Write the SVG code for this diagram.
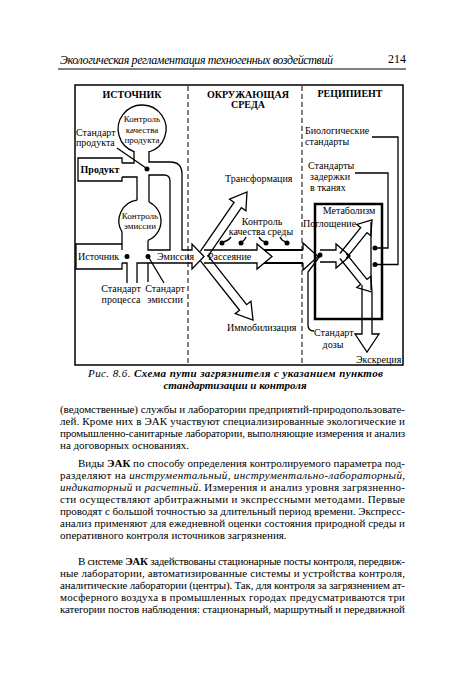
<svg xmlns="http://www.w3.org/2000/svg" width="450" height="675" viewBox="0 0 450 675">
<style>
text{font-family:"Liberation Serif","DejaVu Serif",serif;fill:#000}
.d{font-size:10px}
.c{font-size:9px}
.h{font-size:10px;font-weight:bold}
.b{font-size:11px}
.m{text-anchor:middle}
.ln{fill:none;stroke:#000;stroke-width:1.3;stroke-linejoin:miter}
.thk{fill:none;stroke:#000;stroke-width:2}
.dash{stroke:#000;stroke-width:1;stroke-dasharray:5 3}
.dot{fill:#000}
</style>
<rect width="450" height="675" fill="#fff"/>

<g id="page-header">
<text x="60" y="64" font-size="12" font-style="italic" textLength="273" lengthAdjust="spacing">Экологическая регламентация техногенных воздействий</text>
<text x="388" y="63" font-size="12">214</text>
<line x1="58" y1="69" x2="406" y2="69" stroke="#000" stroke-width="1"/>
</g>

<g id="frame">
<rect x="75" y="85" width="328" height="280" fill="none" stroke="#000" stroke-width="1.5"/>
<line class="dash" x1="188" y1="86" x2="188" y2="365"/>
<line class="dash" x1="302" y1="86" x2="302" y2="365"/>
<text class="h m" x="132" y="98">ИСТОЧНИК</text>
<text class="h m" x="248" y="98">ОКРУЖАЮЩАЯ</text>
<text class="h m" x="248" y="108">СРЕДА</text>
<text class="h m" x="350" y="97">РЕЦИПИЕНТ</text>
</g>

<g id="product-control">
<path class="ln" d="M134,151.6 A24,24 0 1,1 149,152"/>
<text class="c m" x="142" y="122">Контроль</text>
<text class="c m" x="142" y="132.5">качества</text>
<text class="c m" x="142" y="143">продукта</text>
</g>

<g id="product-standard">
<text class="d" x="76" y="136">Стандарт</text>
<text class="d" x="76" y="146">продукта</text>
</g>

<g id="product">
<path class="ln" d="M122,163 L122,158 L78,158 L78,181 L122,181 L122,177"/>
<text class="d m" x="100" y="172.5" font-weight="bold">Продукт</text>
</g>

<g id="emission-control">
<path class="ln" d="M122,244 L122,232 A21,21 0 0,1 137,200.2"/>
<path class="ln" d="M149,202 A21,21 0 0,1 148,240.4"/>
<text class="c m" x="140" y="218.5">Контроль</text>
<text class="c m" x="140" y="229">эмиссии</text>
</g>

<g id="source">
<path class="ln" d="M122,250 L122,244 L76,244 L76,269 L122,269 L122,263"/>
<text class="d" x="78" y="260">Источник</text>
</g>

<g id="process-standard">
<text class="d m" x="121" y="292">Стандарт</text>
<text class="d m" x="121" y="303">процесса</text>
</g>

<g id="emission-standard">
<text class="d m" x="165" y="292">Стандарт</text>
<text class="d m" x="165" y="303">эмиссии</text>
</g>

<g id="emission">
<text class="d" x="157" y="259.5">Эмиссия</text>
</g>

<g id="transformation">
<text class="d" x="225" y="182">Трансформация</text>
</g>

<g id="env-control">
<text class="d m" x="262" y="224.5">Контроль</text>
<text class="d m" x="261" y="234.5">качества среды</text>
</g>

<g id="dispersion">
<text class="d" x="208" y="260">Рассеяние</text>
</g>

<g id="immobilization">
<text class="d" x="227" y="331">Иммобилизация</text>
</g>

<g id="bio-standards">
<text class="d" x="305" y="133.5">Биологические</text>
<text class="d" x="305" y="145">стандарты</text>
</g>

<g id="retention-standards">
<text class="d" x="308" y="168.5">Стандарты</text>
<text class="d" x="310" y="180">задержки</text>
<text class="d" x="310" y="191">в тканях</text>
</g>

<g id="metabolism">
<rect x="315" y="204" width="67" height="115" fill="none" stroke="#000" stroke-width="2.5"/>
<text class="d m" x="349" y="214">Метаболизм</text>
</g>

<g id="uptake">
<text class="d" x="303" y="227">Поглощение</text>
</g>

<g id="dose-standard">
<text class="d" x="314" y="336">Стандарт</text>
<text class="d m" x="333" y="348">дозы</text>
</g>

<g id="excretion">
<text class="d" x="356" y="363">Экскреция</text>
</g>

<g id="connectors">
<path class="ln" d="M122,163 L134,163 L134,151"/>
<path class="ln" d="M149,151 L149,162 L170,162 Q182,162 182,174 L182,250 L192,250 L192,244 L204,256.5 L192,269 L192,263 L137,263 L137,283"/>
<path class="ln" d="M122,177 L137,177 L137,200.2"/>
<path class="ln" d="M149,202 L149,175 L164,175 Q170,175 170,181 L170,250 L148,250 L148,240.4"/>
<path class="ln" d="M122,263 L127,263 L127,283"/>
<path class="ln" d="M148,263 L148,282 M149,258 L164,283"/>
<path class="ln" d="M117,148 L146,168"/>
<polyline class="ln" points="207.67,256.61 241.41,207.67 245.9,210.85 247,192 229.58,199.27 234.07,202.45 200.33,251.39"/>
<polyline class="ln" points="200.47,260.79 239.55,310.23 235.23,313.64 253,320 250.93,301.24 246.61,304.65 207.53,255.21"/>
<polyline class="ln" points="204,250 257,250 257,244 272,256.5 257,269 257,263 204,263"/>
<path class="thk" d="M264,250 L303,250 M264,263 L303,263"/>
<path class="ln" d="M303,250 L303,243 L318,256.5 L303,270 L303,263"/>
<path class="ln" d="M223,242 Q228,241 231,237 M242,242 Q245,240 246,237 M265,242 Q261,241 259,237 M286,242 Q282,241 280,237"/>
<polyline class="ln" points="320,250 336,250 336,244 350,256 336,268 336,262 320,262"/>
<polyline class="ln" points="346.12,258.51 366.96,232.64 370.85,235.78 372,220 356.83,224.48 360.72,227.62 339.88,253.49"/>
<polyline class="ln" points="339.88,258.51 360.72,284.38 356.83,287.52 372,292 370.85,276.22 366.96,279.36 346.12,253.49"/>
<path class="ln" d="M371,222 L371,290"/>
<path class="ln" d="M362,285 L362,334 L355,334 L367,352 L379,334 L372,334 L372,293"/>
<path class="ln" d="M376,248 L388,248 L388,173 L355,173"/>
<path class="ln" d="M376,264.5 L398,264.5 L398,137 L372,137"/>
<path class="ln" d="M320,256 L308,272 L308,325 Q308,331 314,331"/>
<circle class="dot" cx="127" cy="256.5" r="2.5"/>
<circle class="dot" cx="148" cy="256.5" r="2.5"/>
<circle class="dot" cx="147" cy="169" r="2.5"/>
<circle class="dot" cx="222" cy="243" r="2.5"/>
<circle class="dot" cx="241" cy="243" r="2.5"/>
<circle class="dot" cx="266" cy="243" r="2.5"/>
<circle class="dot" cx="287" cy="243" r="2.5"/>
<circle class="dot" cx="320" cy="255" r="2.5"/>
<circle class="dot" cx="375" cy="248" r="2.5"/>
<circle class="dot" cx="375" cy="264.5" r="2.5"/>
</g>

<g id="caption">
<text x="88" y="377" font-size="11" font-style="italic" textLength="295" lengthAdjust="spacing">Рис. 8.6. <tspan font-weight="bold">Схема пути загрязнителя с указанием пунктов</tspan></text>
<text x="235" y="389" font-size="11" font-style="italic" font-weight="bold" text-anchor="middle">стандартизации и контроля</text>
</g>

<g id="body">
<text class="b" x="60" y="413" textLength="345" lengthAdjust="spacing">(ведомственные) службы и лаборатории предприятий-природопользовате-</text>
<text class="b" x="60" y="425" textLength="345" lengthAdjust="spacing">лей. Кроме них в ЭАК участвуют специализированные экологические и</text>
<text class="b" x="60" y="437" textLength="345" lengthAdjust="spacing">промышленно-санитарные лаборатории, выполняющие измерения и анализ</text>
<text class="b" x="60" y="449">на договорных основаниях.</text>

<text class="b" x="78" y="467" textLength="327" lengthAdjust="spacing">Виды <tspan font-weight="bold">ЭАК</tspan> по способу определения контролируемого параметра под-</text>
<text class="b" x="60" y="479" textLength="345" lengthAdjust="spacing">разделяют на <tspan font-style="italic">инструментальный</tspan>, <tspan font-style="italic">инструментально-лабораторный</tspan>,</text>
<text class="b" x="60" y="491" textLength="345" lengthAdjust="spacing"><tspan font-style="italic">индикаторный</tspan> и <tspan font-style="italic">расчетный</tspan>. Измерения и анализ уровня загрязненно-</text>
<text class="b" x="60" y="503" textLength="345" lengthAdjust="spacing">сти осуществляют арбитражными и экспрессными методами. Первые</text>
<text class="b" x="60" y="515" textLength="345" lengthAdjust="spacing">проводят с большой точностью за длительный период времени. Экспресс-</text>
<text class="b" x="60" y="527" textLength="345" lengthAdjust="spacing">анализ применяют для ежедневной оценки состояния природной среды и</text>
<text class="b" x="60" y="539">оперативного контроля источников загрязнения.</text>

<text class="b" x="78" y="565" textLength="327" lengthAdjust="spacing">В системе <tspan font-weight="bold">ЭАК</tspan> задействованы стационарные посты контроля, передвиж-</text>
<text class="b" x="60" y="577" textLength="345" lengthAdjust="spacing">ные лаборатории, автоматизированные системы и устройства контроля,</text>
<text class="b" x="60" y="589" textLength="345" lengthAdjust="spacing">аналитические лаборатории (центры). Так, для контроля за загрязнением ат-</text>
<text class="b" x="60" y="601" textLength="345" lengthAdjust="spacing">мосферного воздуха в промышленных городах предусматриваются три</text>
<text class="b" x="60" y="613" textLength="345" lengthAdjust="spacing">категории постов наблюдения: стационарный, маршрутный и передвижной</text>
</g>
</svg>
